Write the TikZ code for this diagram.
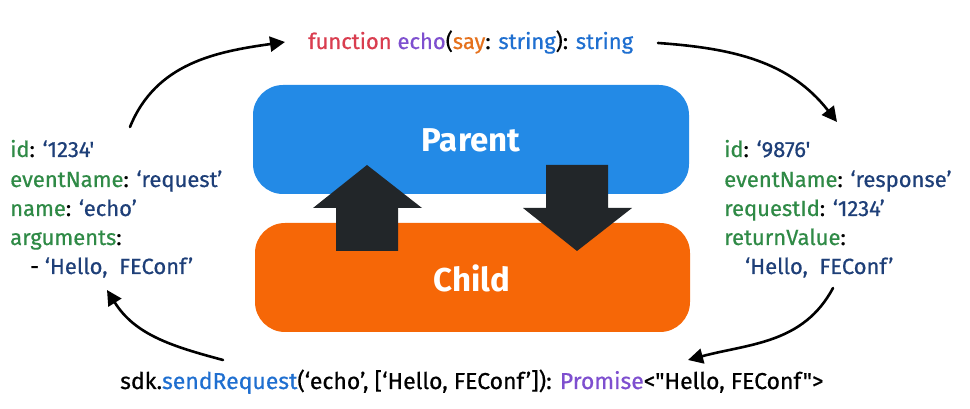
\documentclass[tikz,border=0pt]{standalone}
\usepackage{fontspec}
\setmainfont{Fira Sans}
\newfontfamily\codefont{Fira Sans}[FakeBold=0.6]
\usetikzlibrary{arrows.meta}
\definecolor{pblue}{HTML}{238AE6}
\definecolor{corange}{HTML}{F66707}
\definecolor{adark}{HTML}{222629}
\definecolor{kgreen}{HTML}{2F8A46}
\definecolor{vnavy}{HTML}{1E3F78}
\definecolor{fred}{HTML}{D93D4F}
\definecolor{fpurple}{HTML}{7E4FCF}
\definecolor{forange}{HTML}{E5711C}
\definecolor{fblue}{HTML}{1F6FD0}
\tikzset{
  box/.style={rounded corners=30pt, inner sep=0pt},
  boxlabel/.style={text=white, font=\fontsize{33}{33}\selectfont\bfseries},
  code/.style={font=\codefont\fontsize{22}{22}\selectfont, inner sep=0pt, anchor=base west},
  hand/.style={line width=2.6pt, line cap=round, -{Triangle[length=15pt,width=15pt]}},
  bigarrow/.style={fill=adark, draw=none}
}
\newcommand{\kk}[1]{\textcolor{kgreen}{#1}}
\newcommand{\vv}[1]{\textcolor{vnavy}{#1}}
\begin{document}
\begin{tikzpicture}[x=1pt,y=1pt]
\useasboundingbox (0,0) rectangle (970,409);
% boxes (y = 409 - ypx)
\draw[box, fill=pblue, draw=none] (253,324) rectangle (689,215);
\node[boxlabel] (parent) at (471,269) {Parent};
\draw[box, fill=corange, draw=none] (255,186) rectangle (690,77);
\node[boxlabel] (child) at (472,131) {Child};
% block arrows
\fill[bigarrow] (367,244) -- (422,201) -- (398,201) -- (398,158) -- (336,158) -- (336,201) -- (313,201) -- cycle;
\fill[bigarrow] (577,158) -- (632,201) -- (608,201) -- (608,244) -- (546,244) -- (546,201) -- (523,201) -- cycle;
% top text
\node[code] (sig) at (308,360) {\textcolor{fred}{function} \textcolor{fpurple}{echo}(\textcolor{forange}{say}: \textcolor{fblue}{string}): \textcolor{fblue}{string}};
% left block
\node[code] (l1) at (10,252) {\kk{id}: \vv{‘1234'}};
\node[code] (l2) at (10,222) {\kk{eventName}: \vv{‘request’}};
\node[code] (l3) at (10,193) {\kk{name}: \vv{‘echo’}};
\node[code] (l4) at (10,164) {\kk{arguments}:};
\node[code] (l5) at (30,135) {- \vv{‘Hello,\ \ FEConf’}};
% right block
\node[code] (r1) at (724,252) {\kk{id}: \vv{‘9876'}};
\node[code] (r2) at (724,222) {\kk{eventName}: \vv{‘response’}};
\node[code] (r3) at (724,193) {\kk{requestId}: \vv{‘1234’}};
\node[code] (r4) at (724,164) {\kk{returnValue}:};
\node[code] (r5) at (745,135) {\vv{‘Hello,\ \ FEConf’}};
% bottom text
\node[code, font=\codefont\fontsize{23}{23}\selectfont] (call) at (120,20) {sdk.\textcolor{fblue}{sendRequest}(‘echo’, [‘Hello, FEConf’]): \textcolor{fpurple}{Promise}<\symbol{34}Hello, FEConf\symbol{34}>};
% curved arrows
\coordinate (a1s) at (130,282); \coordinate (a1e) at (285,367);
\coordinate (a2s) at (658,366); \coordinate (a2e) at (837,287);
\coordinate (a3s) at (833,121); \coordinate (a3e) at (688,49);
\coordinate (a4s) at (223,49);  \coordinate (a4e) at (107,119);
\draw[hand] (a1s) to[out=68,in=188] (a1e);
\draw[hand] (a2s) to[out=-4,in=128] (a2e);
\draw[hand] (a3s) to[out=-118,in=15] (a3e);
\draw[hand] (a4s) to[out=165,in=-58] (a4e);
\end{tikzpicture}
\end{document}
